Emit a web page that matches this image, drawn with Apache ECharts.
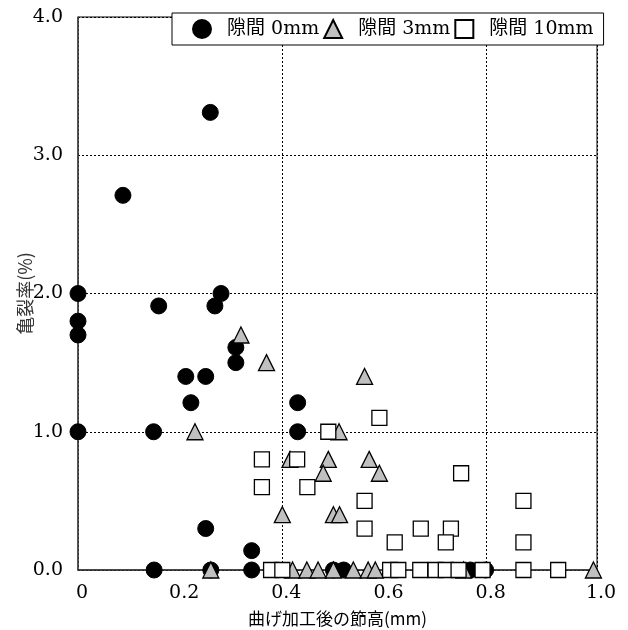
<!DOCTYPE html>
<html>
<head>
<meta charset="utf-8">
<script src="https://cdn.jsdelivr.net/npm/echarts@6/dist/echarts.min.js"></script>
<style>html,body{margin:0;padding:0;background:#fff;}#c{width:628px;height:630px;}</style>
</head>
<body>
<div id="c"></div>
<script>
// 隙間 0mm
const gap0X = [0, 0, 0, 0, 0.088, 0.158, 0.28, 0.268, 0.309, 0.309, 0.211, 0.25, 0.221, 0.148, 0.25, 0.34, 0.43, 0.43, 0.259,
               0.149, 0.26, 0.34, 0.50, 0.52, 0.768, 0.798];
const gap0Y = [2.0, 1.8, 1.7, 1.0, 2.71, 1.91, 2.0, 1.91, 1.61, 1.5, 1.4, 1.4, 1.21, 1.0, 0.3, 0.14, 1.21, 1.0, 3.31,
               0, 0, 0, 0, 0, 0, 0];
// 隙間 3mm
const gap3X = [0.319, 0.369, 0.229, 0.40, 0.415, 0.561, 0.511, 0.49, 0.48, 0.57, 0.59, 0.50, 0.512,
               0.26, 0.42, 0.448, 0.47, 0.50, 0.539, 0.568, 0.582, 0.755, 1.009];
const gap3Y = [1.7, 1.5, 1.0, 0.4, 0.8, 1.4, 1.0, 0.8, 0.7, 0.8, 0.7, 0.4, 0.4,
               0, 0, 0, 0, 0, 0, 0, 0, 0, 0];
// 隙間 10mm
const gap10X = [0.36, 0.36, 0.429, 0.449, 0.49, 0.59, 0.75, 0.561, 0.561, 0.62, 0.671, 0.73, 0.72, 0.872, 0.872,
                0.378, 0.40, 0.611, 0.627, 0.67, 0.70, 0.72, 0.745, 0.792, 0.872, 0.94];
const gap10Y = [0.8, 0.6, 0.8, 0.6, 1.0, 1.1, 0.7, 0.5, 0.3, 0.2, 0.3, 0.3, 0.2, 0.5, 0.2,
                0, 0, 0, 0, 0, 0, 0, 0, 0, 0, 0];

const seriesNames = ['隙間 0mm', '隙間 3mm', '隙間 10mm'];
const xAxisName = '曲げ加工後の節高(mm)';
const yAxisName = '亀裂率(%)';
const xMin = 0, xMax = 1.016, xStep = 0.2, xGridStep = 0.4;
const yMin = 0, yMax = 4, yStep = 1;

const zip = (xs, ys) => xs.map((x, i) => [x, ys[i]]);
const serif = '"DejaVu Serif", "Noto Sans CJK JP", serif';
const jp = '"Noto Sans CJK JP", sans-serif';

const chart = echarts.init(document.getElementById('c'), null, {renderer: 'canvas'});
chart.setOption({
  animation: false,
  backgroundColor: '#fff',
  grid: {left: 78, right: 31, top: 17, bottom: 60, show: true, borderColor: '#000', borderWidth: 1,
         backgroundColor: 'transparent', containLabel: false, outerBoundsMode: 'none'},
  legend: {
    left: 172, top: 13,
    backgroundColor: '#fff', borderColor: '#000', borderWidth: 1,
    padding: [6, 10, 6, 20],
    itemWidth: 18, itemHeight: 18, itemGap: 4,
    textStyle: {fontFamily: serif, fontSize: 19, color: '#000', padding: [0, 0, 0, 11]},
    data: seriesNames
  },
  xAxis: [{
    type: 'value', min: xMin, max: xMax, interval: xStep,
    axisLine: {show: true, onZero: false, lineStyle: {color: '#333', width: 1.5}},
    axisTick: {show: false},
    splitLine: {show: false},
    axisLabel: {
      margin: 14, fontFamily: serif, fontSize: 19, color: '#000', showMaxLabel: true, padding: [0, 0, 0, 8],
      formatter: v => (v > 1.001 ? '1.0' : (Math.abs(v - 1) < 1e-6 ? '' : (v === 0 ? '0' : v.toFixed(1))))
    },
    name: xAxisName, nameLocation: 'middle', nameGap: 40, nameMoveOverlap: false,
    nameTextStyle: {fontFamily: jp, fontSize: 17, color: '#000'}
  }, {
    type: 'value', min: xMin, max: xMax, interval: xGridStep, position: 'bottom',
    axisLine: {show: false}, axisTick: {show: false}, axisLabel: {show: false},
    splitLine: {show: true, lineStyle: {color: '#000', type: [2, 2], width: 1}}
  }],
  yAxis: {
    type: 'value', min: yMin, max: yMax, interval: yStep,
    axisLine: {show: true, lineStyle: {color: '#444', width: 1.5}},
    axisTick: {show: false},
    splitLine: {show: true, lineStyle: {color: '#000', type: [2, 2], width: 1}},
    axisLabel: {margin: 15, fontFamily: serif, fontSize: 19, color: '#000', formatter: v => v.toFixed(1)},
    name: yAxisName, nameLocation: 'middle', nameGap: 44, nameRotate: 90, nameMoveOverlap: false,
    nameTextStyle: {fontFamily: jp, fontSize: 18, color: '#333'}
  },
  series: [
    {name: seriesNames[0], type: 'scatter', symbol: 'circle', symbolSize: 16,
     itemStyle: {color: '#000', borderColor: '#000', borderWidth: 1, opacity: 1},
     data: zip(gap0X, gap0Y)},
    {name: seriesNames[1], type: 'scatter', symbol: 'triangle', symbolSize: 16,
     itemStyle: {color: '#c0c0c0', borderColor: '#000', borderWidth: 1.3, opacity: 1},
     data: zip(gap3X, gap3Y)},
    {name: seriesNames[2], type: 'scatter', symbol: 'rect', symbolSize: 15,
     itemStyle: {color: '#fff', borderColor: '#000', borderWidth: 1.3, opacity: 1},
     data: zip(gap10X, gap10Y)}
  ]
});
</script>
</body>
</html>
